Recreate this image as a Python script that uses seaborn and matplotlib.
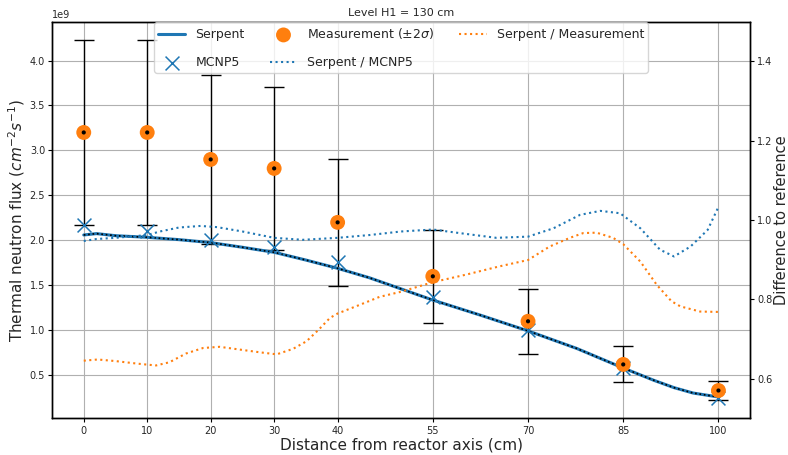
import numpy as np
import pandas as pd
import matplotlib
matplotlib.use("Agg")
import matplotlib.pyplot as plt
import seaborn as sns

# Measurement positions (cm from reactor axis)
positions = [0, 10, 20, 30, 40, 55, 70, 85, 100]

# Measured thermal flux (1e9 cm^-2 s^-1) and 2-sigma uncertainty
measurement = [3.20, 3.20, 2.90, 2.80, 2.20, 1.60, 1.10, 0.62, 0.33]
measurement_2sigma = [1.03, 1.03, 0.94, 0.91, 0.71, 0.52, 0.36, 0.20, 0.107]

# MCNP5 flux at the measurement positions (1e9 cm^-2 s^-1)
mcnp5 = [2.17, 2.10, 2.00, 1.93, 1.76, 1.37, 1.00, 0.58, 0.25]

# Serpent radial flux profile (1e9 cm^-2 s^-1)
serpent_x = [0, 2, 5, 10, 15, 20, 25, 30, 35, 40, 45, 50, 55, 62.5, 70,
             77.7, 85, 89.8, 93, 96, 100]
serpent_flux = [2.060, 2.075, 2.052, 2.034, 2.008, 1.975, 1.923, 1.867, 1.781,
                1.689, 1.584, 1.460, 1.336, 1.168, 0.993, 0.797, 0.580, 0.444,
                0.362, 0.302, 0.258]

# Serpent / MCNP5 ratio profile
ratio_mcnp_x = [0, 2, 5, 10, 12, 15, 18.4, 21, 25, 30, 34.5, 40, 45, 50, 55,
                59.2, 65, 70, 74, 78.2, 81.4, 84.5, 87.7, 90.8, 93, 95.6, 98.3, 100]
ratio_mcnp = [0.947, 0.952, 0.955, 0.962, 0.971, 0.981, 0.985, 0.982, 0.971,
              0.955, 0.950, 0.955, 0.962, 0.971, 0.976, 0.967, 0.955, 0.958,
              0.979, 1.013, 1.023, 1.017, 0.979, 0.925, 0.908, 0.933, 0.975, 1.033]

# Serpent / Measurement ratio profile
ratio_meas_x = [0, 2.2, 5, 8.2, 10, 11.4, 13.5, 16.1, 18.8, 21.4, 24.6, 27.8,
                30.4, 33, 35.1, 37, 38.8, 40, 43.5, 46.6, 50, 55, 60.2, 65.5,
                70, 73.4, 76.6, 78.7, 80.8, 83.4, 85, 87.7, 90.3, 92.6, 94,
                97.1, 100]
ratio_meas = [0.645, 0.648, 0.644, 0.638, 0.635, 0.633, 0.641, 0.663, 0.677,
              0.680, 0.673, 0.666, 0.661, 0.675, 0.694, 0.723, 0.753, 0.764,
              0.786, 0.806, 0.819, 0.843, 0.862, 0.883, 0.899, 0.933, 0.955,
              0.967, 0.968, 0.955, 0.939, 0.895, 0.836, 0.795, 0.782, 0.769,
              0.768]

SCALE = 1e9

sns.set_theme(style="ticks")
plt.rcParams["font.family"] = ["DejaVu Sans"]
plt.rcParams["axes.edgecolor"] = "black"
plt.rcParams["axes.linewidth"] = 1.0

blue = "#1f77b4"
orange = "#ff7f0e"

fig = plt.figure(figsize=(7.88, 4.55), dpi=100)
ax = fig.add_axes([0.066, 0.081, 0.886, 0.871])
ax2 = ax.twinx()

meas = pd.DataFrame({
    "x": positions,
    "flux": np.array(measurement) * SCALE,
    "err": np.array(measurement_2sigma) * SCALE,
})
mc = pd.DataFrame({"x": positions, "flux": np.array(mcnp5) * SCALE})
serp = pd.DataFrame({"x": serpent_x, "flux": np.array(serpent_flux) * SCALE})
rm = pd.DataFrame({"x": ratio_mcnp_x, "r": ratio_mcnp})
rs = pd.DataFrame({"x": ratio_meas_x, "r": ratio_meas})

# Serpent profile: blue band with a fine black dotted core
sns.lineplot(data=serp, x="x", y="flux", ax=ax, color=blue, lw=2.2,
             label="Serpent", zorder=3, sort=False)
sns.lineplot(data=serp, x="x", y="flux", ax=ax, color="black", lw=1.2,
             ls=":", zorder=4, sort=False, legend=False)

# MCNP5 point values
sns.scatterplot(data=mc, x="x", y="flux", ax=ax, marker="x", s=100,
                color=blue, linewidth=1.1, label="MCNP5", zorder=5)

# Measurements with 2-sigma error bars
ax.errorbar(meas["x"], meas["flux"], yerr=meas["err"], fmt="none",
            ecolor="black", elinewidth=1.0, capsize=7.5, capthick=1.0,
            zorder=2)
sns.scatterplot(data=meas, x="x", y="flux", ax=ax, marker="o", s=115,
                color=orange, edgecolor="none",
                label=r"Measurement ($\pm2\sigma$)", zorder=6)
sns.scatterplot(data=meas, x="x", y="flux", ax=ax, marker="o", s=9,
                color="black", edgecolor="none", zorder=7, legend=False)

# Ratio curves on the secondary axis
sns.lineplot(data=rm, x="x", y="r", ax=ax2, color=blue, ls=":", lw=1.5,
             label="Serpent / MCNP5", sort=False)
sns.lineplot(data=rs, x="x", y="r", ax=ax2, color=orange, ls=":", lw=1.5,
             label="Serpent / Measurement", sort=False)

ax.set_xticks(positions)
ax.set_xticklabels([str(p) for p in positions])
ax.set_xlim(-5, 105)
ax2.set_ylim(0.5, 1.5)
ax2.set_yticks([0.6, 0.8, 1.0, 1.2, 1.4])

ax.grid(True, color="#b0b0b0", lw=0.8)
ax.set_axisbelow(True)
for a in (ax, ax2):
    a.tick_params(labelsize=7, length=3, width=0.8, color="black", pad=2)
    for s in a.spines.values():
        s.set_visible(True)
        s.set_color("black")
ax.tick_params(axis="x", pad=3)
ax.yaxis.get_offset_text().set_fontsize(7)

ax.set_xlabel("Distance from reactor axis (cm)", fontsize=11, labelpad=1)
ax.set_ylabel(r"Thermal neutron flux ($cm^{-2}s^{-1}$)", fontsize=11, labelpad=2)
ax2.set_ylabel("Difference to reference", fontsize=10.5)
ax2.yaxis.set_label_coords(1.034, 0.5)
ax.set_title("Level H1 = 130 cm", fontsize=8, pad=4)

# Combined legend across both axes
h1, l1 = ax.get_legend_handles_labels()
h2, l2 = ax2.get_legend_handles_labels()
if ax.get_legend():
    ax.get_legend().remove()
if ax2.get_legend():
    ax2.get_legend().remove()
ax2.legend(h1 + h2, l1 + l2, loc="upper center", bbox_to_anchor=(0.5, 1.0),
           ncol=3, fontsize=9, labelspacing=1.2, borderaxespad=0.05,
           borderpad=0.3, columnspacing=2.0, handlelength=2.2,
           frameon=True, framealpha=0.8)

fig.savefig("out.png", dpi=100)
